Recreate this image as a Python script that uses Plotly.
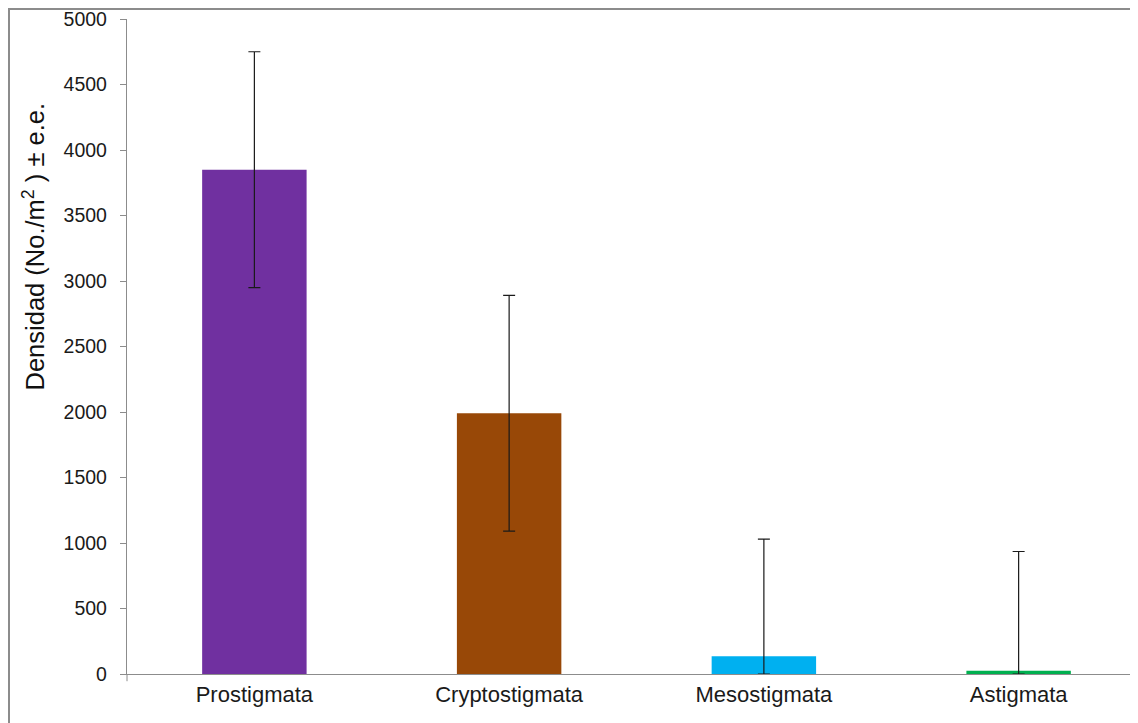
import plotly.graph_objects as go

categories = ["Prostigmata", "Cryptostigmata", "Mesostigmata", "Astigmata"]
densidad = [3850, 1990, 135, 25]
error_ee = [900, 900, 895, 910]
colors = ["#7030A0", "#984807", "#00B0F0", "#00B050"]
y_title = "Densidad (No./m<sup>2</sup> ) ± e.e."

err_minus = [min(e, v) for e, v in zip(error_ee, densidad)]

fig = go.Figure()
fig.add_trace(go.Bar(
    x=categories, y=densidad,
    marker=dict(color=colors, line=dict(width=0)),
    error_y=dict(type="data", symmetric=False, array=error_ee, arrayminus=err_minus,
                 color="#1a1a1a", thickness=1.2, width=6),
    width=0.41,
))

axis_gray = "#8c8c8c"
fig.update_layout(
    width=1138, height=723,
    margin=dict(l=119, r=0, t=11, b=57),
    paper_bgcolor="white", plot_bgcolor="white",
    showlegend=False,
    font=dict(family="Liberation Sans, Arial, sans-serif", size=19, color="#1a1a1a"),
    xaxis=dict(
        showline=True, linecolor=axis_gray, linewidth=1.3,
        showgrid=False, ticks="", tickfont=dict(size=22),
        range=[-0.5, 3.5],
    ),
    yaxis=dict(
        range=[0, 5000], tick0=0, dtick=500,
        showline=True, linecolor=axis_gray, linewidth=1.3,
        ticks="outside", ticklen=6, tickcolor=axis_gray, tickwidth=1,
        showgrid=False, zeroline=False,
        tickfont=dict(size=19.5),
        ticklabelstandoff=9,
        ticklabeloverflow="allow",
    ),
    annotations=[
        dict(text=y_title, xref="paper", yref="paper",
             x=-93.0 / 1019, y=0.6527, xanchor="center", yanchor="middle",
             textangle=-90, showarrow=False,
             font=dict(size=25.5, color="#111111")),
    ],
    shapes=[
        dict(type="rect", xref="paper", yref="paper",
             x0=-118.0 / 1019, x1=1.2, y0=-0.3, y1=1 + 10.0 / 655,
             line=dict(color="#8c8c8c", width=2), fillcolor="rgba(0,0,0,0)", layer="below"),
        dict(type="line", xref="paper", yref="paper",
             x0=0, x1=0, y0=0, y1=-0.011,
             line=dict(color=axis_gray, width=1)),
    ],
)

fig.write_html("out.html")
